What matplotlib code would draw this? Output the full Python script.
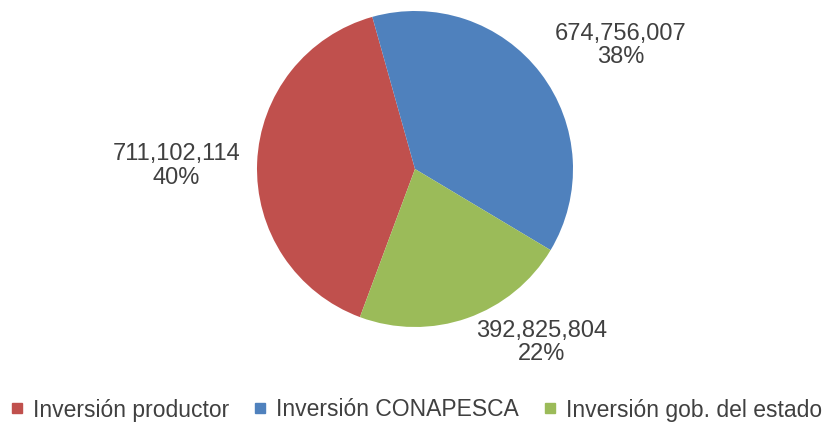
import matplotlib
matplotlib.use('Agg')

import matplotlib.pyplot as plt
from matplotlib.lines import Line2D

# --- data ---
categories = ['Inversión productor', 'Inversión CONAPESCA', 'Inversión gob. del estado']
values = [711102114, 674756007, 392825804]
percents = [40, 38, 22]
colors = ['#C0504D', '#4F81BD', '#9BBB59']

# label positions in pie-radius units (placed like the original)
label_pos = [(-1.51, 0.02), (1.30, 0.78), (0.80, -1.10)]

plt.rcParams['font.family'] = ['Liberation Sans', 'DejaVu Sans']
text_color = '#404040'

fig = plt.figure(figsize=(8.24, 4.25), dpi=100)
W, H = 824, 425
cx, cy, r = 415, 169, 158
ax = fig.add_axes([(cx - r) / W, (H - cy - r) / H, 2 * r / W, 2 * r / H])

labels = [f"{v:,}\n{p}%" for v, p in zip(values, percents)]
wedges, texts = ax.pie(values, colors=colors, startangle=249.6, counterclock=False,
                       labels=labels, radius=1.0,
                       textprops=dict(fontsize=17, color=text_color, linespacing=1.08))
for t, (x, y) in zip(texts, label_pos):
    t.set_position((x, y))
    t.set_ha('center')
    t.set_va('center')
ax.set_xlim(-1, 1)
ax.set_ylim(-1, 1)
ax.set_aspect('equal')

handles = [Line2D([], [], marker='s', linestyle='', markersize=7, color=c) for c in colors]
fig.legend(handles, categories, loc='center', bbox_to_anchor=(0.5055, 15 / H), ncol=3,
           frameon=False, fontsize=16.5, labelcolor=text_color,
           handlelength=0.5, handletextpad=0.45, columnspacing=1.1, borderaxespad=0)

fig.savefig('out.png', dpi=100)
